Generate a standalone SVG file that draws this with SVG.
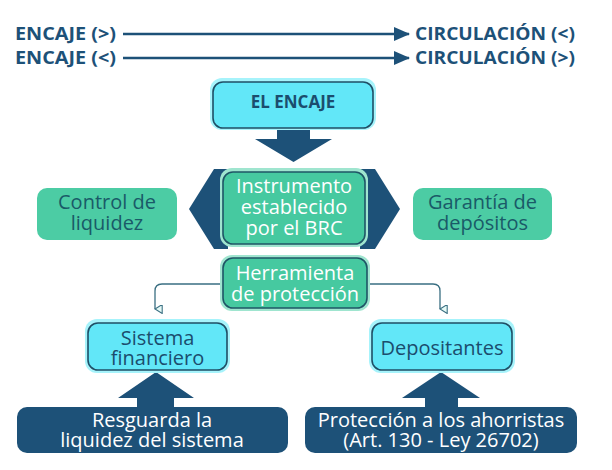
<svg xmlns="http://www.w3.org/2000/svg" width="612" height="470" viewBox="0 0 612 470">
<defs>
<style>
.hdr{font-family:"Open Sans","Liberation Sans",sans-serif;font-weight:bold;font-size:17px;fill:#1d5178}
.t{font-family:"Open Sans","Liberation Sans",sans-serif;font-size:20px;text-anchor:middle}
.w{fill:#ffffff}
.dt{fill:#1a5a68}
.db{fill:#1b4d6e}
.cyan{fill:#62e7f8;stroke:#1f4f66;stroke-width:1.6}
.glowc{fill:#a6f3fb}
.green{fill:#46c9a0;stroke:#1f5566;stroke-width:1.6}
.glowg{fill:#9fe5cf}
.gplain{fill:#4ccca4}
.dark{fill:#1d5178}
.conn{fill:none;stroke:#3a6f82;stroke-width:1.3}
</style>
<marker id="hd" viewBox="0 0 10 10" refX="5" refY="9" markerWidth="9" markerHeight="9" markerUnits="userSpaceOnUse" orient="auto-start-reverse">
<path d="M0,1 L10,1 L5,9 Z" fill="#e6faf6" stroke="#3a6f82" stroke-width="1.2"/>
</marker>
<marker id="ah" viewBox="0 0 16 14" refX="15" refY="7" markerWidth="16" markerHeight="14" markerUnits="userSpaceOnUse" orient="auto">
<path d="M0,0 L16,7 L0,14 Z" fill="#1d5178"/>
</marker>
</defs>
<rect width="612" height="470" fill="#ffffff"/>

<g id="connectors">
<line x1="123" y1="34" x2="409" y2="34" stroke="#1d5178" stroke-width="2.4" marker-end="url(#ah)"/>
<line x1="123" y1="58" x2="409" y2="58" stroke="#1d5178" stroke-width="2.4" marker-end="url(#ah)"/>
<path class="dark" d="M277,127 H310 V139 H332 L293.5,162 L255,139 H277 Z"/>
<path class="dark" d="M189,209 L214,169 H228 V249 H214 Z"/>
<path class="dark" d="M400,209 L375,169 H360 V249 H375 Z"/>
<path class="conn" d="M223,284 H162 Q155,284 155,291 V309" marker-end="url(#hd)"/>
<path class="conn" d="M367,284 H433 Q440,284 440,291 V309" marker-end="url(#hd)"/>
<path class="dark" d="M137,410 V398 H118 L156,372 L194,398 H174 V410 Z"/>
<path class="dark" d="M425,410 V398 H402 L441,372 L480,398 H458 V410 Z"/>
</g>

<g id="top-row1">
<text class="hdr" x="15" y="40" textLength="101" lengthAdjust="spacingAndGlyphs">ENCAJE (&gt;)</text>
<text class="hdr" x="415" y="40" textLength="160" lengthAdjust="spacingAndGlyphs">CIRCULACIÓN (&lt;)</text>
</g>
<g id="top-row2">
<text class="hdr" x="15" y="64" textLength="101" lengthAdjust="spacingAndGlyphs">ENCAJE (&lt;)</text>
<text class="hdr" x="415" y="64" textLength="160" lengthAdjust="spacingAndGlyphs">CIRCULACIÓN (&gt;)</text>
</g>

<g id="el-encaje">
<rect class="glowc" x="210" y="78" width="166" height="52" rx="12"/>
<rect class="cyan" x="213" y="82" width="160" height="46" rx="10"/>
<text x="293" y="108" text-anchor="middle" font-family="'Open Sans','Liberation Sans',sans-serif" font-weight="bold" font-size="17" fill="#1b4d6e">EL ENCAJE</text>
</g>

<g id="instrumento">
<rect class="glowg" x="220" y="168" width="148" height="79" rx="12"/>
<rect class="green" x="223" y="172" width="142" height="72" rx="10"/>
<text class="t w" x="294" y="193">Instrumento</text>
<text class="t w" x="294" y="214">establecido</text>
<text class="t w" x="294" y="235">por el BRC</text>
</g>

<g id="control">
<rect class="gplain" x="37" y="188" width="140" height="52" rx="10"/>
<text class="t dt" x="107" y="209">Control de</text>
<text class="t dt" x="107" y="230">liquidez</text>
</g>

<g id="garantia">
<rect class="gplain" x="413" y="188" width="139" height="52" rx="10"/>
<text class="t dt" x="482.5" y="209">Garantía de</text>
<text class="t dt" x="482.5" y="230">depósitos</text>
</g>

<g id="herramienta">
<rect class="glowg" x="220" y="255" width="150" height="56" rx="12"/>
<rect class="green" x="223" y="258" width="144" height="50" rx="10"/>
<text class="t w" x="295" y="280">Herramienta</text>
<text class="t w" x="295" y="301">de protección</text>
</g>

<g id="sistema">
<rect class="glowc" x="85" y="319" width="145" height="54" rx="12"/>
<rect class="cyan" x="88" y="323" width="139" height="47" rx="10"/>
<text class="t db" x="157.5" y="345">Sistema</text>
<text class="t db" x="157.5" y="365">financiero</text>
</g>

<g id="depositantes">
<rect class="glowc" x="369" y="319" width="146" height="54" rx="12"/>
<rect class="cyan" x="372" y="323" width="140" height="47" rx="10"/>
<text class="t db" x="442" y="355">Depositantes</text>
</g>

<g id="resguarda">
<rect class="dark" x="17" y="407" width="271" height="46" rx="10"/>
<text class="t w" x="152" y="427">Resguarda la</text>
<text class="t w" x="152" y="447">liquidez del sistema</text>
</g>

<g id="proteccion">
<rect class="dark" x="305" y="407" width="272" height="46" rx="10"/>
<text class="t w" x="441" y="427">Protección a los ahorristas</text>
<text class="t w" x="441" y="447">(Art. 130 - Ley 26702)</text>
</g>
</svg>
